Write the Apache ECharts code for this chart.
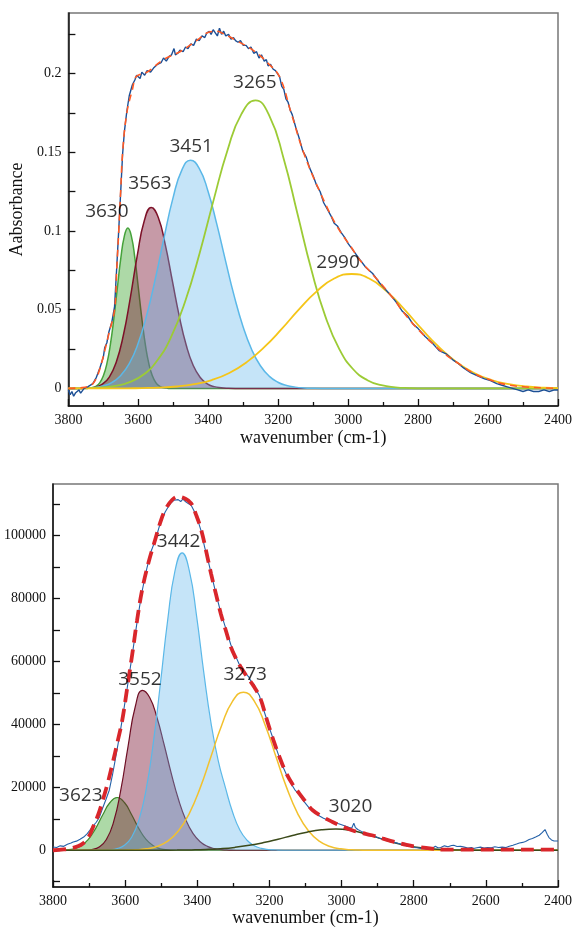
<!DOCTYPE html>
<html>
<head>
<meta charset="utf-8">
<title>OH band deconvolution</title>
<script src="https://cdn.jsdelivr.net/npm/echarts@6/dist/echarts.min.js"></script>
<style>
  html, body { margin: 0; padding: 0; background: #fff; }
  #chart { width: 575px; height: 929px; }
</style>
</head>
<body>
<div id="chart"></div>
<script>
// ---------- top panel (absorbance) ----------
var yTopLabels = [0, 0.05, 0.1, 0.15, 0.2];
var yTopTicks = [0, 0.025, 0.05, 0.075, 0.1, 0.125, 0.15, 0.175, 0.2, 0.225];

var measuredTop = [[3800,-0.001],[3795,-0.004],[3790,-0.002],[3785,-0.005],[3780,-0.003],[3775,-0.004],[3770,-0.001],[3765,-0.003],[3760,-0.002],[3755,0],[3750,-0.001],[3745,0.001],[3740,0.001],[3730,0.003],[3720,0.007],[3710,0.013],[3700,0.02],[3696,0.026],[3690,0.029],[3684,0.036],[3676,0.042],[3668,0.052],[3662,0.076],[3656,0.101],[3650,0.127],[3645,0.149],[3640,0.163],[3633,0.176],[3626,0.186],[3617,0.193],[3610,0.196],[3605,0.199],[3600,0.2],[3595,0.197],[3590,0.201],[3582,0.199],[3575,0.202],[3565,0.201],[3555,0.204],[3545,0.206],[3535,0.207],[3528,0.21],[3520,0.208],[3512,0.211],[3505,0.212],[3498,0.216],[3494,0.212],[3487,0.213],[3481,0.215],[3472,0.214],[3465,0.217],[3458,0.216],[3450,0.219],[3442,0.218],[3434,0.222],[3426,0.221],[3418,0.224],[3410,0.223],[3404,0.226],[3397,0.227],[3392,0.225],[3386,0.228],[3380,0.226],[3374,0.224],[3368,0.229],[3362,0.225],[3356,0.227],[3350,0.224],[3342,0.225],[3335,0.222],[3328,0.223],[3322,0.221],[3315,0.22],[3308,0.221],[3300,0.218],[3292,0.218],[3285,0.216],[3278,0.217],[3270,0.213],[3262,0.214],[3255,0.21],[3248,0.212],[3240,0.208],[3234,0.209],[3229,0.205],[3222,0.206],[3215,0.203],[3208,0.202],[3202,0.2],[3196,0.198],[3190,0.192],[3184,0.19],[3178,0.184],[3172,0.182],[3166,0.177],[3160,0.174],[3150,0.166],[3140,0.159],[3130,0.151],[3120,0.147],[3110,0.14],[3100,0.135],[3090,0.129],[3080,0.125],[3070,0.118],[3060,0.114],[3050,0.11],[3040,0.105],[3030,0.103],[3020,0.099],[3010,0.096],[3000,0.092],[2990,0.089],[2980,0.086],[2967,0.082],[2950,0.077],[2930,0.073],[2910,0.067],[2890,0.062],[2874,0.058],[2860,0.054],[2845,0.049],[2830,0.046],[2815,0.041],[2800,0.038],[2780,0.033],[2760,0.029],[2740,0.024],[2720,0.022],[2700,0.018],[2686,0.016],[2670,0.013],[2650,0.01],[2630,0.008],[2610,0.006],[2593,0.005],[2575,0.003],[2560,0.002],[2545,0.001],[2530,0],[2515,-0.001],[2500,-0.002],[2485,-0.001],[2470,-0.002],[2455,-0.002],[2440,-0.001],[2425,-0.002],[2410,-0.001],[2400,-0.001]];

var fitTop = [[3800,0],[3760,0.0005],[3740,0.0015],[3730,0.003],[3720,0.0065],[3710,0.0125],[3696,0.024],[3684,0.035],[3668,0.05],[3662,0.075],[3656,0.1],[3650,0.128],[3645,0.15],[3633,0.175],[3617,0.19],[3607,0.198],[3590,0.2],[3575,0.201],[3528,0.209],[3481,0.214],[3434,0.221],[3397,0.2265],[3375,0.227],[3360,0.2258],[3322,0.2214],[3266,0.214],[3229,0.2066],[3196,0.198],[3163,0.175],[3126,0.149],[3079,0.124],[3032,0.103],[2986,0.088],[2967,0.0816],[2920,0.07],[2874,0.058],[2830,0.045],[2780,0.033],[2730,0.023],[2686,0.016],[2640,0.0095],[2593,0.0053],[2550,0.0025],[2499,0.001],[2450,0.0004],[2400,0]];

var green3630 = [[3800,0],[3750,0],[3740,0.0002],[3730,0.0006],[3720,0.0015],[3710,0.0037],[3700,0.008],[3690,0.0157],[3680,0.0278],[3670,0.0444],[3660,0.0639],[3650,0.0829],[3640,0.0968],[3630,0.102],[3620,0.0968],[3610,0.0829],[3600,0.0639],[3590,0.0444],[3580,0.0278],[3570,0.0157],[3560,0.008],[3550,0.0037],[3540,0.0015],[3530,0.0006],[3520,0.0002],[3510,0],[2400,0]];
var maroon3563 = [[3800,0],[3763,0],[3743,0.0002],[3723,0.0008],[3703,0.0027],[3683,0.0072],[3663,0.0168],[3643,0.0336],[3623,0.0576],[3603,0.0845],[3583,0.1065],[3563,0.115],[3543,0.1086],[3523,0.0914],[3503,0.0686],[3483,0.0459],[3463,0.0274],[3443,0.0145],[3423,0.0069],[3403,0.0029],[3383,0.0011],[3363,0.0004],[3343,0.0001],[3323,0],[2400,0]];
var blue3451 = [[3800,0],[3776,0],[3751,0.0002],[3726,0.0006],[3701,0.0016],[3676,0.0037],[3651,0.008],[3626,0.0157],[3601,0.0283],[3576,0.0466],[3551,0.0701],[3526,0.0964],[3501,0.1209],[3476,0.1386],[3451,0.145],[3426,0.1399],[3401,0.1255],[3376,0.1047],[3351,0.0814],[3326,0.0588],[3301,0.0395],[3276,0.0247],[3251,0.0144],[3226,0.0078],[3201,0.0039],[3176,0.0018],[3151,0.0008],[3126,0.0003],[3101,0.0001],[3076,0],[2400,0]];
var lime3265 = [[3800,0],[3785,0],[3745,0.0002],[3705,0.0006],[3665,0.0016],[3625,0.004],[3585,0.0088],[3545,0.018],[3505,0.0333],[3465,0.056],[3425,0.0858],[3385,0.1195],[3345,0.1514],[3305,0.1745],[3265,0.183],[3225,0.1731],[3185,0.1465],[3145,0.111],[3105,0.0752],[3065,0.0456],[3025,0.0248],[2985,0.012],[2945,0.0052],[2905,0.002],[2865,0.0007],[2825,0.0002],[2785,0],[2400,0]];
var gold2990 = [[3800,0],[3640,0],[3590,0.0002],[3540,0.0005],[3490,0.0012],[3440,0.0027],[3390,0.0053],[3340,0.0098],[3290,0.0167],[3240,0.0262],[3190,0.0378],[3140,0.0504],[3090,0.0617],[3040,0.0698],[2990,0.0727],[2940,0.0698],[2890,0.0617],[2840,0.0504],[2790,0.0378],[2740,0.0262],[2690,0.0167],[2640,0.0098],[2590,0.0053],[2540,0.0027],[2490,0.0012],[2440,0.0005],[2400,0.0002]];

var labelsTop = [['3630', 3690, 0.1121], ['3563', 3567, 0.1299], ['3451', 3449, 0.154], ['3265', 3267, 0.1944], ['2990', 3029, 0.08]];

// ---------- bottom panel ----------
var yBotLabels = [0, 20000, 40000, 60000, 80000, 100000];
var yBotTicks = [-10000, 0, 10000, 20000, 30000, 40000, 50000, 60000, 70000, 80000, 90000, 100000, 110000];

var measuredBot = [[3800,1050],[3790,900],[3780,1400],[3770,1250],[3760,1900],[3750,2300],[3744,2650],[3735,2900],[3725,3500],[3715,4200],[3705,5300],[3698,6360],[3690,7600],[3680,8900],[3671,10590],[3662,13500],[3653,16200],[3644,19080],[3635,24000],[3626,29670],[3617,35500],[3608,41500],[3595,51000],[3580,62300],[3567,72500],[3553,82300],[3540,89500],[3528,95000],[3517,98300],[3505,103000],[3495,106000],[3489,107500],[3480,109200],[3472,110500],[3465,111200],[3460,110600],[3453,111400],[3446,110800],[3440,111600],[3432,110700],[3425,110200],[3417,109600],[3408,107600],[3400,105400],[3389,101300],[3380,96500],[3370,92000],[3362,88200],[3350,82300],[3335,75600],[3320,70100],[3307,65300],[3295,62000],[3285,59400],[3275,57800],[3265,56000],[3258,55200],[3250,53500],[3242,52600],[3236,50800],[3228,49200],[3220,46000],[3210,42500],[3200,38800],[3189,35200],[3180,32000],[3170,28700],[3160,25900],[3153,24100],[3140,21200],[3130,19300],[3117,17600],[3105,15600],[3090,13500],[3080,12500],[3070,11600],[3060,10800],[3050,10200],[3040,9700],[3030,9300],[3020,9000],[3010,8500],[3000,8100],[2990,7700],[2980,7300],[2972,7000],[2966,8600],[2962,7300],[2955,6600],[2945,6000],[2935,5500],[2925,5000],[2916,4700],[2905,4300],[2895,3800],[2885,3500],[2875,3100],[2865,2900],[2853,2500],[2840,2100],[2825,1600],[2810,1200],[2800,900],[2790,800],[2780,600],[2770,500],[2760,350],[2750,500],[2740,1300],[2733,800],[2725,900],[2715,1400],[2705,1100],[2695,1500],[2689,1600],[2680,1200],[2670,1300],[2660,1000],[2650,700],[2640,900],[2634,550],[2625,800],[2615,1000],[2605,700],[2595,900],[2585,800],[2575,1100],[2565,900],[2555,1000],[2544,860],[2535,1300],[2525,1600],[2515,2000],[2507,2330],[2498,2500],[2490,2800],[2480,3400],[2471,3720],[2462,4200],[2452,4770],[2444,5600],[2436,6580],[2430,5100],[2425,4040],[2418,3300],[2411,2960],[2400,2960]];

var fitBot = [[3800,0],[3770,250],[3753,540],[3735,1100],[3717,2130],[3700,4500],[3689,7410],[3675,11200],[3662,15900],[3648,21500],[3635,27570],[3620,35000],[3608,41340],[3595,51000],[3580,62540],[3567,73000],[3553,82670],[3535,91500],[3517,98570],[3503,104000],[3489,108110],[3470,111300],[3453,112340],[3435,111800],[3417,110230],[3403,106500],[3389,101750],[3375,94800],[3362,87980],[3348,81300],[3335,75260],[3320,69500],[3307,64640],[3293,61000],[3280,58300],[3262,55100],[3244,52200],[3226,48500],[3208,41800],[3189,34980],[3170,29000],[3153,24390],[3135,20800],[3117,18030],[3098,15200],[3080,12720],[3052,10600],[3025,9000],[2998,7600],[2971,6360],[2944,5500],[2916,4770],[2885,3700],[2853,2650],[2820,1700],[2789,1050],[2750,500],[2716,220],[2400,220]];

var green3623 = [[3800,0],[3782,30],[3762,132],[3742,480],[3722,1420],[3702,3450],[3682,6890],[3662,11290],[3642,15180],[3622,16760],[3602,15180],[3582,11290],[3562,6890],[3542,3450],[3522,1420],[3502,480],[3482,132],[3462,30],[3442,0],[2400,0]];
var maroon3552 = [[3800,0],[3732,0],[3712,50],[3692,254],[3672,1035],[3652,3400],[3632,9000],[3612,19190],[3592,32960],[3572,45600],[3552,50800],[3532,48520],[3512,42280],[3492,33600],[3472,24370],[3452,16120],[3432,9730],[3412,5355],[3392,2690],[3372,1235],[3352,515],[3332,196],[3312,68],[3292,0],[2400,0]];
var blue3442 = [[3800,0],[3682,0],[3662,50],[3642,160],[3622,540],[3602,1595],[3582,4150],[3562,9510],[3542,19190],[3522,34060],[3502,53220],[3482,73220],[3462,88660],[3442,94500],[3422,88800],[3402,74500],[3382,56500],[3362,40500],[3342,28500],[3322,19900],[3302,12070],[3282,6430],[3262,3180],[3242,1420],[3222,585],[3202,225],[3182,80],[3162,0],[2400,0]];
var gold3273 = [[3800,0],[3632,0],[3602,45],[3572,150],[3542,452],[3512,1220],[3482,2915],[3452,6200],[3422,11750],[3392,19820],[3362,29780],[3332,39820],[3302,47400],[3272,50240],[3242,47400],[3212,39820],[3182,29780],[3152,19820],[3122,11750],[3092,6200],[3062,2915],[3032,1220],[3002,452],[2972,150],[2942,45],[2912,0],[2400,0]];
var olive3020 = [[3800,0],[3536,0],[3496,19],[3456,49],[3416,115],[3376,248],[3336,497],[3296,915],[3256,1560],[3216,2440],[3176,3520],[3136,4690],[3096,5750],[3056,6500],[3016,6770],[2976,6360],[2936,5270],[2896,3850],[2856,2485],[2816,1414],[2776,710],[2736,314],[2696,123],[2656,42],[2616,13],[2576,0],[2400,0]];

var labelsBot = [['3442', 3452, 97930], ['3552', 3559, 54370], ['3273', 3267, 55960], ['3623', 3723, 17490], ['3020', 2975, 13990]];

var serif = 'Liberation Serif';

function xAxisFor(gi, gap) {
  return {
    gridIndex: gi, type: 'value', min: 2400, max: 3800, interval: 200, inverse: true,
    name: 'wavenumber (cm-1)', nameLocation: 'middle', nameGap: gap,
    nameTextStyle: {fontFamily: serif, fontSize: 18, color: '#111'},
    axisLine: {onZero: false, lineStyle: {color: '#111', width: 1.5}},
    axisTick: {inside: true, length: 7, lineStyle: {color: '#111', width: 1.3}},
    minorTick: {show: true, splitNumber: 2, length: 4, lineStyle: {color: '#111', width: 1.3}},
    axisLabel: {fontFamily: serif, fontSize: 14, color: '#111', margin: 7, showMinLabel: true, showMaxLabel: true,
      formatter: function (v) { return String(v); }},
    splitLine: {show: false}
  };
}

function yAxisFor(gi, min, max, labels, ticks, name) {
  return {
    gridIndex: gi, type: 'value', min: min, max: max,
    name: name, nameLocation: 'middle', nameGap: 33, nameRotate: 90,
    nameTextStyle: {fontFamily: serif, fontSize: 18, color: '#111'},
    axisLine: {show: true, onZero: false, lineStyle: {color: '#111', width: 1.5}},
    axisTick: {show: true, inside: true, length: 7, customValues: ticks, lineStyle: {color: '#111', width: 1.3}},
    axisLabel: {fontFamily: serif, fontSize: 14, color: '#111', margin: 7, customValues: labels,
      formatter: function (v) { return String(v); }},
    splitLine: {show: false}
  };
}

// fitted component / envelope, smooth curve
function curve(gi, data, color, fill, width, z) {
  var s = {
    type: 'line', xAxisIndex: gi, yAxisIndex: gi, data: data,
    smooth: 0.5, symbol: 'none', z: z,
    lineStyle: {color: color, width: width}
  };
  if (fill) s.areaStyle = {color: fill};
  return s;
}

// raw spectrum / dashed fit
function trace(gi, data, color, width, dash, z) {
  return {
    type: 'line', xAxisIndex: gi, yAxisIndex: gi, data: data, symbol: 'none', z: z,
    smooth: dash === 'solid' ? false : 0.4,
    lineStyle: {color: color, width: width, type: dash}
  };
}

function labels(gi, list) {
  return {
    type: 'scatter', xAxisIndex: gi, yAxisIndex: gi, symbolSize: 1, z: 20,
    itemStyle: {color: 'rgba(0,0,0,0)'},
    label: {show: true, position: 'inside', formatter: '{b}', fontFamily: 'Open Sans', fontSize: 19,
      fontWeight: 500, color: '#000', textBorderWidth: 0},
    data: list.map(function (p) { return {name: p[0], value: [p[1], p[2]]}; })
  };
}

var chart = echarts.init(document.getElementById('chart'));
chart.setOption({
  animation: false,
  backgroundColor: '#fff',
  grid: [
    {left: 63, right: 12, top: 13, bottom: 523, show: true, borderColor: '#777', borderWidth: 1.5},
    {left: 53, right: 9, top: 484, bottom: 42, show: true, borderColor: '#777', borderWidth: 1.5}
  ],
  xAxis: [xAxisFor(0, 23), xAxisFor(1, 22)],
  yAxis: [
    yAxisFor(0, -0.0112, 0.2386, yTopLabels, yTopTicks, 'Aabsorbance'),
    yAxisFor(1, -11670, 116375, yBotLabels, yBotTicks, '')
  ],
  series: [
    // top
    curve(0, green3630, '#45a23a', 'rgba(60,165,45,0.6)', 1.5, 2),
    curve(0, maroon3563, '#7d1128', 'rgba(120,14,45,0.6)', 1.5, 3),
    curve(0, blue3451, '#5bb8e8', 'rgba(95,182,235,0.52)', 1.5, 4),
    curve(0, lime3265, '#9ccb35', null, 1.8, 5),
    curve(0, gold2990, '#f5c518', null, 1.8, 5),
    trace(0, measuredTop, '#1c4f95', 1.4, 'solid', 6),
    trace(0, fitTop, '#ff5a24', 1.6, [7, 5], 7),
    labels(0, labelsTop),
    // bottom
    curve(1, green3623, '#3d8a2a', 'rgba(60,165,45,0.6)', 1.2, 2),
    curve(1, maroon3552, '#6e0f24', 'rgba(120,14,45,0.6)', 1.2, 3),
    curve(1, blue3442, '#5bb8e8', 'rgba(95,182,235,0.52)', 1.2, 4),
    curve(1, gold3273, '#f2c12e', null, 1.5, 5),
    curve(1, olive3020, '#3b4a1a', null, 1.5, 5),
    trace(1, measuredBot, '#2461a8', 1.1, 'solid', 6),
    trace(1, fitBot, '#d9262b', 3.8, [13, 7], 7),
    labels(1, labelsBot)
  ]
});
</script>
</body>
</html>
